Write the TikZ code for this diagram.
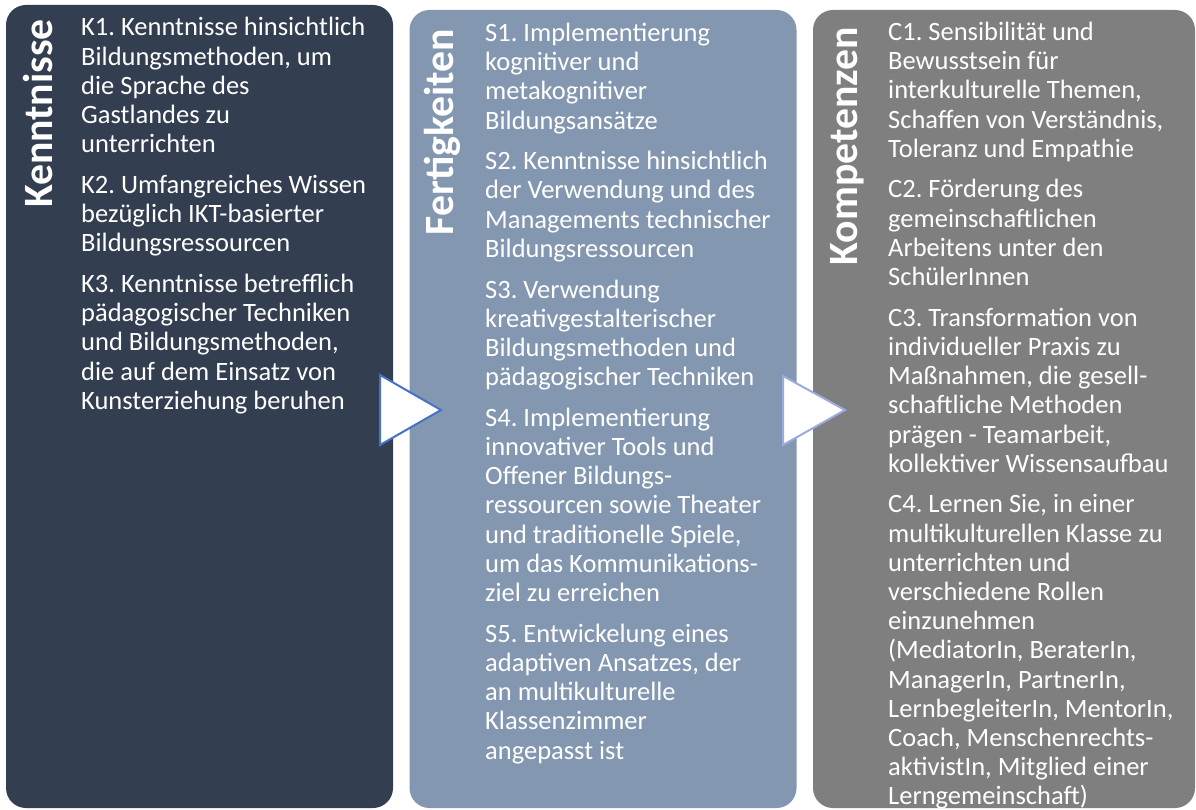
\documentclass[tikz,border=0pt]{standalone}
\usepackage{fontspec}
\setmainfont{Carlito}
\frenchspacing
\definecolor{panelA}{HTML}{333F50}
\definecolor{panelB}{HTML}{8497B0}
\definecolor{panelC}{HTML}{7F7F7F}
\definecolor{arrowA}{HTML}{4472C4}
\definecolor{arrowB}{HTML}{9DAAE0}
\newcommand\Lrow[1]{\hbox{#1}}
\newcommand\Pgap{\vskip11.5pt}
\tikzset{
  panel/.style={rounded corners=20pt, inner sep=0, draw=none},
  title/.style={inner sep=0, text=white, font=\fontsize{41.7}{45}\selectfont\bfseries, rotate=90, anchor=base east},
  body/.style={inner sep=0, text=white, font=\fontsize{26.5}{29.2}\selectfont\frenchspacing, anchor=base west},
  chevron/.style={fill=white, line width=2pt, line join=miter}
}
\begin{document}
\begin{tikzpicture}[x=1pt,y=-1pt]
\useasboundingbox (0,0) rectangle (1196,810);
\fill[white] (0,0) rectangle (1196,810);
% panels
\node[panel, fill=panelA, minimum width=387pt, minimum height=803pt] (pA) at (199.5,406.5) {};
\node[panel, fill=panelB, minimum width=387pt, minimum height=798pt] (pB) at (603,409) {};
\node[panel, fill=panelC, minimum width=382pt, minimum height=798pt] (pC) at (1004,409) {};
% arrows
\draw[chevron, draw=arrowA] (380,375) -- (441,410) -- (380,445) -- cycle;
\draw[chevron, draw=arrowB] (783,376) -- (845,410) -- (783,445) -- cycle;
% titles
\node[title] (tA) at (52,19) {Kenntnisse};
\node[title] (tB) at (453,29) {Fertigkeiten};
\node[title] (tC) at (857,27) {Kompetenzen};
% texts
\node[body] (bA) at (81,36) {\vtop{%
\Lrow{K1. Kenntnisse hinsichtlich}
\Lrow{Bildungsmethoden, um}
\Lrow{die Sprache des}
\Lrow{Gastlandes zu}
\Lrow{unterrichten}
\Pgap
\Lrow{K2. Umfangreiches Wissen}
\Lrow{bezüglich IKT-basierter}
\Lrow{Bildungsressourcen}
\Pgap
\Lrow{K3. Kenntnisse betrefflich}
\Lrow{pädagogischer Techniken}
\Lrow{und Bildungsmethoden,}
\Lrow{die auf dem Einsatz von}
\Lrow{Kunsterziehung beruhen}}};
\node[body] (bB) at (485,41.5) {\vtop{%
\Lrow{S1. Implementierung}
\Lrow{kognitiver und}
\Lrow{metakognitiver}
\Lrow{Bildungsansätze}
\Pgap
\Lrow{S2. Kenntnisse hinsichtlich}
\Lrow{der Verwendung und des}
\Lrow{Managements technischer}
\Lrow{Bildungsressourcen}
\Pgap
\Lrow{S3. Verwendung}
\Lrow{kreativgestalterischer}
\Lrow{Bildungsmethoden und}
\Lrow{pädagogischer Techniken}
\Pgap
\Lrow{S4. Implementierung}
\Lrow{innovativer Tools und}
\Lrow{Offener Bildungs-}
\Lrow{ressourcen sowie Theater}
\Lrow{und traditionelle Spiele,}
\Lrow{um das Kommunikations-}
\Lrow{ziel zu erreichen}
\Pgap
\Lrow{S5. Entwickelung eines}
\Lrow{adaptiven Ansatzes, der}
\Lrow{an multikulturelle}
\Lrow{Klassenzimmer}
\Lrow{angepasst ist}}};
\node[body] (bC) at (888,40.5) {\vtop{%
\Lrow{C1. Sensibilität und}
\Lrow{Bewusstsein für}
\Lrow{interkulturelle Themen,}
\Lrow{Schaffen von Verständnis,}
\Lrow{Toleranz und Empathie}
\Pgap
\Lrow{C2. Förderung des}
\Lrow{gemeinschaftlichen}
\Lrow{Arbeitens unter den}
\Lrow{SchülerInnen}
\Pgap
\Lrow{C3. Transformation von}
\Lrow{individueller Praxis zu}
\Lrow{Maßnahmen, die gesell-}
\Lrow{schaftliche Methoden}
\Lrow{prägen - Teamarbeit,}
\Lrow{kollektiver Wissensaufbau}
\Pgap
\Lrow{C4. Lernen Sie, in einer}
\Lrow{multikulturellen Klasse zu}
\Lrow{unterrichten und}
\Lrow{verschiedene Rollen}
\Lrow{einzunehmen}
\Lrow{(MediatorIn, BeraterIn,}
\Lrow{ManagerIn, PartnerIn,}
\Lrow{LernbegleiterIn, MentorIn,}
\Lrow{Coach, Menschenrechts-}
\Lrow{aktivistIn, Mitglied einer}
\Lrow{Lerngemeinschaft)}}};
\end{tikzpicture}
\end{document}
